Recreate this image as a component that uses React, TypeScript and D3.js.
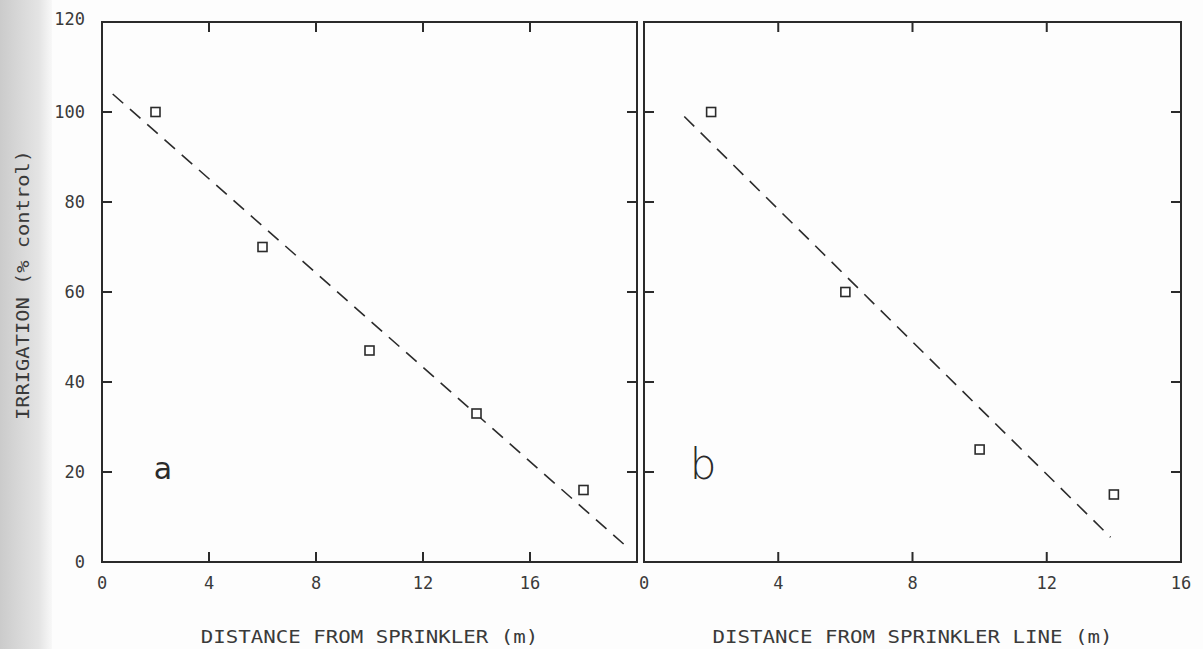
import { useEffect, useRef } from 'react';
import * as d3 from 'd3';

// panel a: distance from sprinkler
const distA = [2, 6, 10, 14, 18];
const irrA = [100, 70, 47, 33, 16];
const fitAx = [0.4, 19.5];
const fitAy = [104, 4];

// panel b: distance from sprinkler line
const distB = [2, 6, 10, 14];
const irrB = [100, 60, 25, 15];
const fitBx = [1.2, 13.9];
const fitBy = [99, 5.5];

const yTicks = [0, 20, 40, 60, 80, 100, 120];
const xTicksA = [0, 4, 8, 12, 16];
const xTicksB = [0, 4, 8, 12, 16];

const W = 1203, H = 649;
const ink = '#2b2b2b';
const mono = '"DejaVu Sans Mono", "Liberation Mono", monospace';

const App = () => {
  const svgRef = useRef<SVGSVGElement>(null);

  useEffect(() => {
    const svg = d3.select(svgRef.current);
    svg.selectAll('*').remove();

    // scanned page shading on the left edge
    const defs = svg.append('defs');
    const grad = defs.append('linearGradient').attr('id', 'edge');
    grad.append('stop').attr('offset', '0%').attr('stop-color', '#cbcbcb');
    grad.append('stop').attr('offset', '75%').attr('stop-color', '#e4e4e4');
    grad.append('stop').attr('offset', '100%').attr('stop-color', '#f8f8f8');
    svg.append('rect').attr('width', W).attr('height', H).attr('fill', '#fdfdfd');
    svg.append('rect').attr('width', 52).attr('height', H).attr('fill', 'url(#edge)');

    const y = d3.scaleLinear().domain([0, 120]).range([562, 22]);

    const panel = (xs: number[], ys: number[], fx: number[], fy: number[],
      domainMax: number, x0: number, x1: number, ticks: number[],
      label: string, tag: string, tagSize: number, tagWeight: number,
      tagPos: [number, number], yLabels: boolean) => {
      const x = d3.scaleLinear().domain([0, domainMax]).range([x0, x1]);
      const g = svg.append('g');

      g.append('rect')
        .attr('x', x0).attr('y', y(120))
        .attr('width', x1 - x0).attr('height', y(0) - y(120))
        .attr('fill', 'none').attr('stroke', ink).attr('stroke-width', 2);

      const inner = ticks.filter(t => t > 0 && t < domainMax);
      const tl = 10;
      inner.forEach(t => {
        g.append('line').attr('x1', x(t)).attr('x2', x(t))
          .attr('y1', y(0)).attr('y2', y(0) - tl)
          .attr('stroke', ink).attr('stroke-width', 2);
        g.append('line').attr('x1', x(t)).attr('x2', x(t))
          .attr('y1', y(120)).attr('y2', y(120) + tl)
          .attr('stroke', ink).attr('stroke-width', 2);
      });
      yTicks.filter(t => t > 0 && t < 120).forEach(t => {
        g.append('line').attr('x1', x0).attr('x2', x0 + tl)
          .attr('y1', y(t)).attr('y2', y(t))
          .attr('stroke', ink).attr('stroke-width', 2);
        g.append('line').attr('x1', x1).attr('x2', x1 - tl)
          .attr('y1', y(t)).attr('y2', y(t))
          .attr('stroke', ink).attr('stroke-width', 2);
      });

      g.selectAll('.xl').data(ticks).enter().append('text')
        .attr('x', d => x(d)).attr('y', 589)
        .attr('text-anchor', 'middle')
        .attr('font-family', mono).attr('font-size', 17)
        .attr('fill', '#3a3a3a')
        .text(d => d);

      if (yLabels) {
        g.selectAll('.yl').data(yTicks).enter().append('text')
          .attr('x', 85).attr('y', d => y(d) + 6 - (d === 120 ? 3 : 0))
          .attr('text-anchor', 'end')
          .attr('font-family', mono).attr('font-size', 17)
          .attr('fill', '#3a3a3a')
          .text(d => d);
      }

      const line = d3.line<number>().x((d, i) => x(fx[i])).y(d => y(d));
      g.append('path').attr('d', line(fy))
        .attr('fill', 'none').attr('stroke', ink).attr('stroke-width', 1.6)
        .attr('stroke-dasharray', '14 9');

      g.selectAll('.pt').data(ys).enter().append('rect')
        .attr('x', (d, i) => x(xs[i]) - 4.5).attr('y', d => y(d) - 4.5)
        .attr('width', 9).attr('height', 9)
        .attr('fill', '#fff').attr('stroke', ink).attr('stroke-width', 1.6);

      g.append('text')
        .attr('x', tagPos[0]).attr('y', tagPos[1])
        .attr('text-anchor', 'middle')
        .attr('font-family', '"DejaVu Sans", sans-serif')
        .attr('font-size', tagSize).attr('font-weight', tagWeight)
        .attr('fill', ink)
        .text(tag);

      g.append('text')
        .attr('x', (x0 + x1) / 2).attr('y', 643)
        .attr('text-anchor', 'middle')
        .attr('font-family', mono).attr('font-size', 17)
        .attr('textLength', label.length * 12.5).attr('lengthAdjust', 'spacingAndGlyphs')
        .attr('fill', '#3a3a3a')
        .text(label);
    };

    panel(distA, irrA, fitAx, fitAy, 20, 102, 637, xTicksA,
      'DISTANCE FROM SPRINKLER (m)', 'a', 30, 400, [163, 479], true);
    panel(distB, irrB, fitBx, fitBy, 16, 644, 1181, xTicksB,
      'DISTANCE FROM SPRINKLER LINE (m)', 'b', 42, 200, [703, 479], false);

    svg.append('text')
      .attr('transform', 'translate(29,285) rotate(-90)')
      .attr('text-anchor', 'middle')
      .attr('font-family', mono).attr('font-size', 17)
      .attr('textLength', 270).attr('lengthAdjust', 'spacingAndGlyphs')
      .attr('fill', '#3a3a3a')
      .text('IRRIGATION (% control)');
  }, []);

  return (
    <div style={{ position: 'absolute', left: 0, top: 0, width: W, height: H, background: '#fff' }}>
      <svg ref={svgRef} width={W} height={H}></svg>
    </div>
  );
};

export default App;
